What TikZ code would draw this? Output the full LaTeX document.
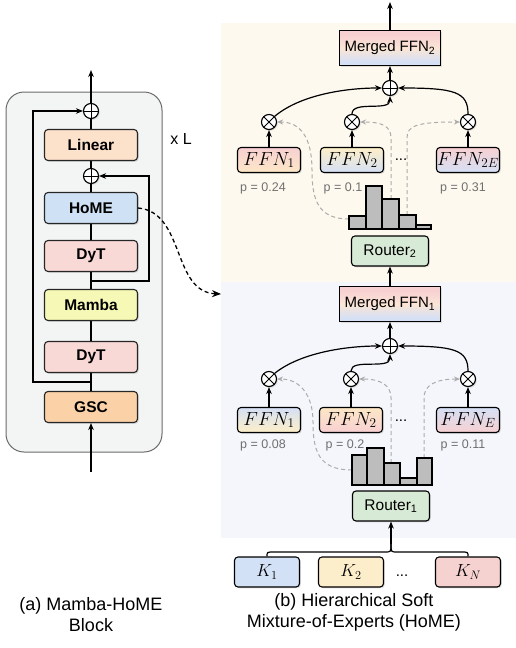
\RequirePackage{fix-cm}
\documentclass[tikz,border=0pt]{standalone}
\usepackage{fontspec}
\setmainfont{Liberation Sans}
\usetikzlibrary{arrows.meta,shadows,calc}
\definecolor{clin}{HTML}{FCE1CB}
\definecolor{chome}{HTML}{CFE2F5}
\definecolor{cdyt}{HTML}{F9D9D5}
\definecolor{cmamba}{HTML}{F6F8B6}
\definecolor{cgsc}{HTML}{FBD2A8}
\definecolor{leftbg}{HTML}{F3F4F4}
\definecolor{leftbd}{HTML}{6B6B6B}
\definecolor{cream}{HTML}{FDF9EE}
\definecolor{bluebg}{HTML}{F4F6FB}
\definecolor{crouter}{HTML}{D7EAD5}
\definecolor{ck1}{HTML}{D3E1F6}
\definecolor{ck2}{HTML}{FDEECB}
\definecolor{ckn}{HTML}{F5D1D0}
\definecolor{spink}{HTML}{F7D0D2}
\definecolor{sorange}{HTML}{FDE7C6}
\definecolor{syellow}{HTML}{FDEFC8}
\definecolor{sblue}{HTML}{D5E0F5}
\definecolor{speach}{HTML}{FBE5D5}
\definecolor{gline}{HTML}{ABABAB}
\definecolor{ptext}{HTML}{707070}
\definecolor{cbar}{HTML}{BDBDBD}
\pgfdeclareverticalshading{mergedsh}{100bp}{color(0bp)=(sblue); color(30bp)=(sblue); color(50bp)=(speach); color(70bp)=(spink); color(100bp)=(spink)}
\begin{document}
\begin{tikzpicture}[x=1pt,y=-1pt,
  >={Stealth[length=7pt,width=5.5pt]},
  shad/.style={drop shadow={shadow xshift=1.3pt,shadow yshift=-1.3pt,opacity=0.22}},
  blk/.style={draw=black!85, line width=1.1pt, rounded corners=3.5pt, minimum width=93pt, minimum height=31pt, inner sep=0pt, font=\fontsize{15.5}{18}\selectfont\bfseries, shad},
  ffn/.style={draw=black, line width=1.1pt, rounded corners=3.5pt, minimum width=63pt, minimum height=25pt, inner sep=0pt, font=\fontsize{19}{22}\selectfont, shad},
  kbox/.style={draw=black, line width=1.1pt, rounded corners=3.5pt, minimum width=65pt, minimum height=30pt, inner sep=0pt, font=\fontsize{17.5}{21}\selectfont, shad},
  merged/.style={draw=black, line width=1.1pt, minimum width=101pt, minimum height=35pt, inner sep=0pt, shading=mergedsh, font=\fontsize{15}{18}\selectfont, shad},
  router/.style={draw=black, line width=1.1pt, rounded corners=3.5pt, fill=crouter, minimum width=77pt, minimum height=30pt, inner sep=0pt, font=\fontsize{15.5}{18}\selectfont, shad},
  plusc/.style={circle, draw, line width=1.1pt, fill=white, minimum size=15pt, inner sep=0pt, shad,
    path picture={\draw[line width=1pt] (path picture bounding box.north) -- (path picture bounding box.south) (path picture bounding box.west) -- (path picture bounding box.east);}},
  timesc/.style={circle, draw, line width=1.1pt, fill=white, minimum size=15pt, inner sep=0pt, shad,
    path picture={\draw[line width=1pt] (path picture bounding box.north west) -- (path picture bounding box.south east) (path picture bounding box.south west) -- (path picture bounding box.north east);}},
  ln/.style={line width=1.2pt, black},
  thk/.style={line width=1.6pt, black},
  gdash/.style={gline, line width=1pt, dash pattern=on 4pt off 3pt, >={Stealth[length=6pt,width=5pt]}},
  plab/.style={text=ptext, font=\fontsize{12.5}{14}\selectfont, inner sep=0pt},
  dotstxt/.style={font=\fontsize{15}{18}\selectfont, inner sep=0pt},
  bar/.style={draw=black, line width=1.1pt, fill=cbar},
  captxt/.style={font=\fontsize{18}{21}\selectfont, align=center, inner sep=0pt}
]
\useasboundingbox (0,0) rectangle (516,648);
% ---------- backgrounds ----------
\fill[cream] (221,23) rectangle (516,282);
\fill[bluebg] (221,282) rectangle (516,538);
\draw[leftbd, line width=1pt, fill=leftbg, rounded corners=18pt] (6,92) rectangle (162,452);

% ---------- left panel ----------
\node[blk, fill=clin] (lin) at (91,145) {Linear};
\node[blk, fill=chome] (home) at (91,208) {HoME};
\node[blk, fill=cdyt] (dyt1) at (91,256) {DyT};
\node[blk, fill=cmamba] (mamba) at (91,305) {Mamba};
\node[blk, fill=cdyt] (dyt2) at (91,357) {DyT};
\node[blk, fill=cgsc] (gsc) at (91,407) {GSC};
\node[plusc] (p1) at (91,111) {};
\node[plusc] (p2) at (91,176) {};
\coordinate (in) at (91,472);
\coordinate (out) at (91,70);
\coordinate (s1) at (91,382);
\coordinate (s2) at (91,281);
\draw[ln,->] (in) -- (gsc);
\draw[ln] (gsc) -- (dyt2);
\draw[ln] (dyt2) -- (mamba);
\draw[ln] (mamba) -- (dyt1);
\draw[ln] (dyt1) -- (home);
\draw[ln] (home) -- (p2);
\draw[ln] (p2) -- (lin);
\draw[ln] (lin) -- (p1);
\draw[ln,->] (p1) -- (out);
\draw[ln,->] (s1) -- ++(-58,0) |- (p1.west);
\draw[ln,->] (s2) -- ++(58,0) |- (p2.east);
\node[font=\fontsize{16}{18}\selectfont, inner sep=0pt] (xl) at (181,139) {x L};
\coordinate (hometgt) at (221,294);
\draw[line width=1.3pt, dash pattern=on 4pt off 3pt, ->, >={Stealth[length=9pt,width=7pt]}] (home.east) .. controls (185,212) and (172,292) .. (hometgt);
\node[captxt] (capa) at (91,615) {(a) Mamba-HoME\\Block};

% ---------- upper HoME level ----------
\coordinate (out2) at (390,2);
\node[merged] (m2) at (390,48) {Merged FFN\textsubscript{2}};
\node[plusc] (pu) at (390,88) {};
\node[timesc] (xu1) at (269,122) {};
\node[timesc] (xu2) at (352,122) {};
\node[timesc] (xu3) at (468,122) {};
\node[ffn, top color=spink, bottom color=sorange] (fu1) at (269,160) {$FFN_1$};
\node[ffn, top color=syellow, bottom color=sblue] (fu2) at (352,160) {$FFN_2$};
\node[ffn, top color=spink, bottom color=sblue] (fu3) at (468,160) {$FFN_{2E}$};
\node[plab] (pu1) at (263,188) {p = 0.24};
\node[plab] (pu2) at (343,188) {p = 0.1};
\node[plab] (pu3) at (463,188) {p = 0.31};
\node[dotstxt] (du) at (401,160) {...};
\node[router] (r2) at (390,251) {Router\textsubscript{2}};
% gray dashed routing
\draw[gdash,->] (349,219) .. controls (318,219) and (312,200) .. (312,170) .. controls (312,137) and (300,122) .. (xu1.east);
\draw[gdash,->] (391,199) -- (391,138) .. controls (391,126) and (382,122) .. (xu2.east);
\draw[gdash,->] (407,215) -- (407,138) .. controls (407,126) and (416,122) .. (xu3.west);
% histogram
\draw[bar] (349,216) rectangle (366,229);
\draw[bar] (366,186) rectangle (382,229);
\draw[bar] (382,199) rectangle (399,229);
\draw[bar] (399,215) rectangle (416,229);
\draw[bar] (416,225) rectangle (431,229);
% connectors
\draw[thk,->] (fu1) -- (xu1);
\draw[thk,->] (fu2) -- (xu2);
\draw[thk,->] (fu3) -- (xu3);
\draw[ln,->] (xu1.north east) .. controls (300,95) and (345,88) .. (pu.west);
\draw[ln,->] (xu2.north) .. controls (352,100) and (390,112) .. (pu.south);
\draw[ln,->] (xu3.north) .. controls (468,92) and (455,88) .. (pu.east);
\draw[ln,->] (pu) -- (m2);
\draw[ln,->] (m2) -- (out2);

% ---------- lower HoME level ----------
\node[merged] (m1) at (390,304) {Merged FFN\textsubscript{1}};
\node[plusc] (pl) at (390,346) {};
\node[timesc] (xl1) at (269,379) {};
\node[timesc] (xl2) at (351,379) {};
\node[timesc] (xl3) at (468,379) {};
\node[ffn, top color=sblue, bottom color=syellow] (fl1) at (269,420) {$FFN_1$};
\node[ffn, top color=sorange, bottom color=spink] (fl2) at (351,420) {$FFN_2$};
\node[ffn, top color=sblue, bottom color=spink] (fl3) at (468,420) {$FFN_E$};
\node[plab] (pl1) at (263,445) {p = 0.08};
\node[plab] (pl2) at (345,445) {p = 0.2};
\node[plab] (pl3) at (463,445) {p = 0.11};
\node[dotstxt] (dl) at (401,421) {...};
\node[router] (r1) at (391,506) {Router\textsubscript{1}};
\draw[gdash,->] (352,470) .. controls (318,470) and (313,450) .. (313,422) .. controls (313,395) and (300,379) .. (xl1.east);
\draw[gdash,->] (391,463) -- (391,398) .. controls (391,386) and (382,379) .. (xl2.east);
\draw[gdash,->] (424,458) -- (424,398) .. controls (424,386) and (434,379) .. (xl3.west);
\draw[bar] (352,455) rectangle (367,485);
\draw[bar] (367,448) rectangle (384,485);
\draw[bar] (384,463) rectangle (400,485);
\draw[bar] (400,478) rectangle (417,485);
\draw[bar] (417,458) rectangle (432,485);
\draw[thk,->] (fl1) -- (xl1);
\draw[thk,->] (fl2) -- (xl2);
\draw[thk,->] (fl3) -- (xl3);
\draw[ln,->] (xl1.north east) .. controls (300,353) and (345,346) .. (pl.west);
\draw[ln,->] (xl2.north) .. controls (351,358) and (390,370) .. (pl.south);
\draw[ln,->] (xl3.north) .. controls (468,350) and (455,346) .. (pl.east);
\draw[ln,->] (pl) -- (m1);
\draw[ln,->] (m1) -- (r2);

% ---------- inputs ----------
\node[kbox, fill=ck1] (k1) at (267,572) {$K_1$};
\node[kbox, fill=ck2] (k2) at (351,572) {$K_2$};
\node[kbox, fill=ckn] (kn) at (468,572) {$K_N$};
\node[dotstxt] (dk) at (402,576) {...};
\coordinate (bt) at (391,544);
\draw[ln] (k1.north) .. controls (267,552) .. (274,552) -- (385,552) .. controls (391,552) .. (bt);
\draw[ln] (kn.north) .. controls (468,552) .. (461,552) -- (397,552) .. controls (391,552) .. (bt);
\draw[ln,->] (bt) -- (r1.south);
\node[captxt] (capb) at (354,612) {(b) Hierarchical Soft\\Mixture-of-Experts (HoME)};
\end{tikzpicture}
\end{document}
